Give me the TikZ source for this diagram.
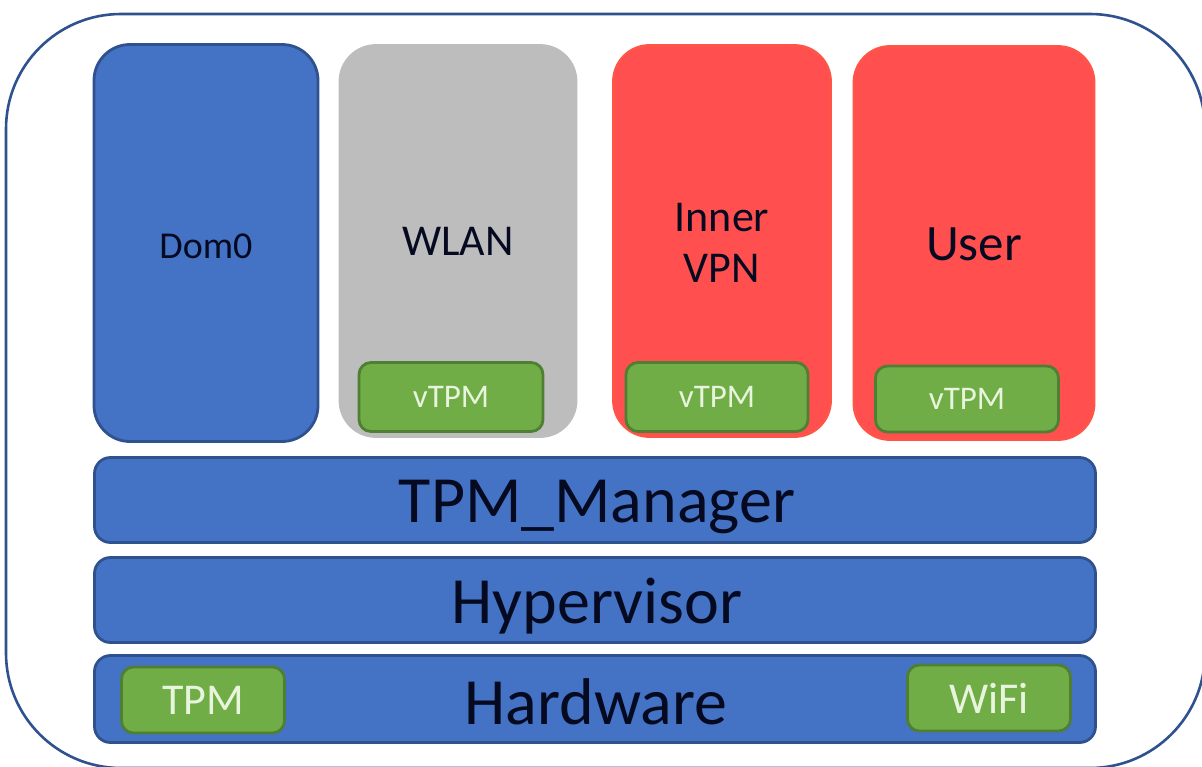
\documentclass[tikz,border=0pt]{standalone}
\usepackage{fontspec}
\setmainfont{Carlito}
\definecolor{bluef}{HTML}{4472C4}
\definecolor{blued}{HTML}{2F528F}
\definecolor{greyf}{HTML}{BDBDBD}
\definecolor{redf}{HTML}{FF4F4F}
\definecolor{greenf}{HTML}{70AD47}
\definecolor{greend}{HTML}{4F7F32}
\definecolor{inkd}{HTML}{050A20}
\definecolor{lightt}{HTML}{E8F5DC}
\begin{document}
\begin{tikzpicture}[x=1pt,y=-1pt,
 box/.style={rounded corners=#1,draw,line width=2.8pt,inner sep=0pt,anchor=center},
 bluebox/.style={fill=bluef,draw=blued},
 greybox/.style={fill=greyf,draw=greyf},
 redbox/.style={fill=redf,draw=redf!90!orange},
 greenbox/.style={fill=greenf,draw=greend,text=lightt},
 lab/.style={text=inkd,font=\fontsize{#1}{#1}\selectfont,align=center}]
\useasboundingbox (0,0) rectangle (1202,766);
\fill[white] (0,0) rectangle (1202,766);
\begin{scope}
\clip (0,0) rectangle (1202,766);
\node[draw=blued,line width=2.6pt,rounded corners=115pt,minimum width=1199,minimum height=754,inner sep=0pt] (outer) at (605.5,391) {};
\end{scope}
\node[bluebox,box=36pt,minimum width=224,minimum height=397] (dom) at (206,243) {};
\node[lab=38] at (206,246) {Dom0};
\node[greybox,box=36pt,minimum width=236,minimum height=391] (wlan) at (458,241) {};
\node[lab=44] at (458,241) {WLAN};
\node[redbox,box=36pt,minimum width=217,minimum height=391] (vpn) at (722,241) {};
\node[lab=44] at (722,243) {Inner\\[7pt]VPN};
\node[redbox,box=36pt,minimum width=240,minimum height=393] (user) at (974,243) {};
\node[lab=51] at (974,244) {User};
\node[greenbox,box=12pt,minimum width=184,minimum height=69,font=\fontsize{33}{33}\selectfont] (v1) at (451,397) {vTPM};
\node[greenbox,box=12pt,minimum width=182,minimum height=69,font=\fontsize{33}{33}\selectfont] (v2) at (717,397) {vTPM};
\node[greenbox,box=12pt,minimum width=183,minimum height=66,font=\fontsize{33}{33}\selectfont] (v3) at (967,399) {vTPM};
\node[bluebox,box=16pt,minimum width=1001,minimum height=85] (m) at (595,500) {};
\node[lab=66] at (597,507) {TPM\_Manager};
\node[bluebox,box=16pt,minimum width=1001,minimum height=85] (h) at (595,600) {};
\node[lab=66] at (597,606) {Hypervisor};
\node[bluebox,box=16pt,minimum width=1001,minimum height=87] (hw) at (595,699) {};
\node[lab=66] at (596,702) {Hardware};
\node[greenbox,box=12pt,minimum width=163,minimum height=66,font=\fontsize{44}{44}\selectfont] (t) at (203,700) {TPM};
\node[greenbox,box=12pt,minimum width=163,minimum height=66,font=\fontsize{44}{44}\selectfont] (w) at (989,698) {WiFi};
\end{tikzpicture}
\end{document}
